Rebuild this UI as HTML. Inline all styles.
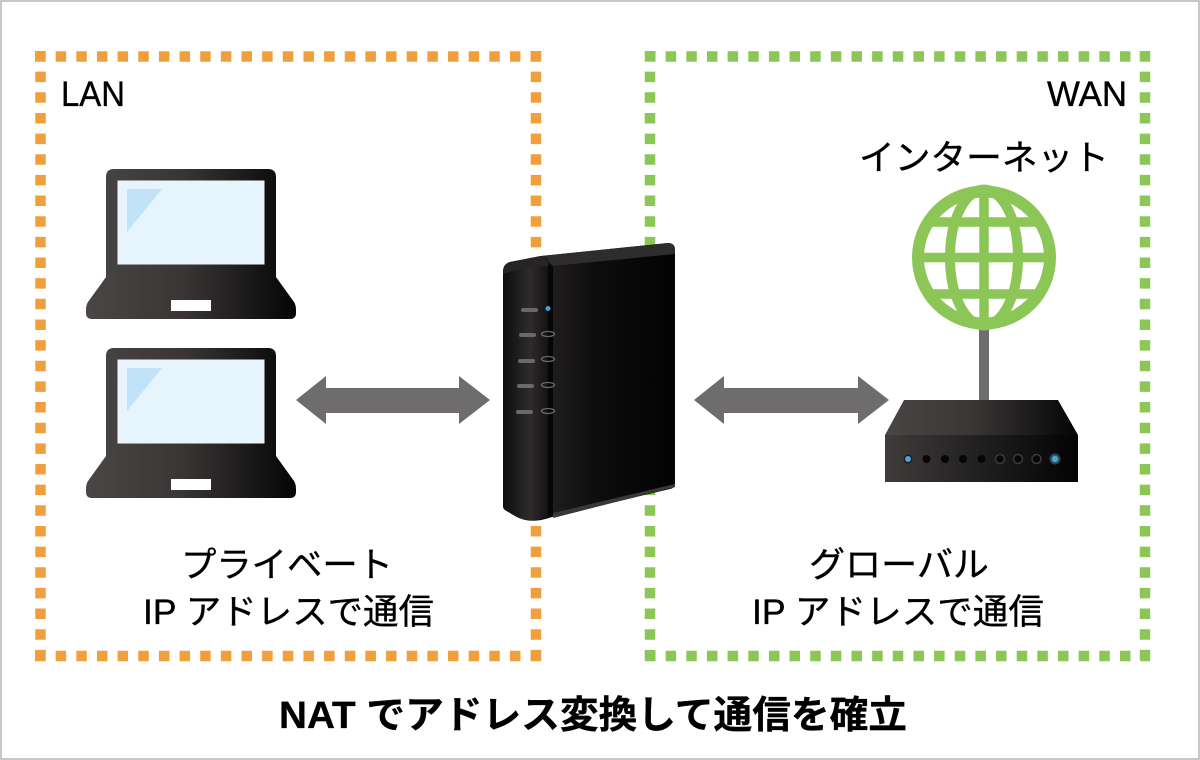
<!DOCTYPE html>
<html lang="ja"><head><meta charset="utf-8">
<style>html,body{margin:0;padding:0;background:#fff;width:1200px;height:760px;overflow:hidden}svg{display:block}
text{font-family:"Liberation Sans","Noto Sans CJK JP",sans-serif;fill:#000;stroke:#000;stroke-width:.35px;font-size:35px}</style></head>
<body>
<svg width="1200" height="760" viewBox="0 0 1200 760" xmlns="http://www.w3.org/2000/svg">
<defs>
<linearGradient id="dk" x1="0" x2="1" y1="0" y2="0"><stop offset="0" stop-color="#4a4646"/><stop offset=".45" stop-color="#3a3636"/><stop offset="1" stop-color="#050505"/></linearGradient>
<linearGradient id="fr" x1="0" x2="1" y1="0" y2="0"><stop offset="0" stop-color="#403c3c"/><stop offset=".4" stop-color="#262424"/><stop offset="1" stop-color="#030303"/></linearGradient>
<linearGradient id="rf" x1="0" x2="1" y1="0" y2="0"><stop offset="0" stop-color="#1e1c1c"/><stop offset=".35" stop-color="#0e0d0d"/><stop offset="1" stop-color="#020202"/></linearGradient>
<linearGradient id="rl" x1="0" x2="1" y1="0" y2="0"><stop offset="0" stop-color="#0c0c0c"/><stop offset=".6" stop-color="#2e2b2b"/><stop offset="1" stop-color="#141313"/></linearGradient>
<g id="laptop">
<path d="M114 169H268Q276 169 276 177V277L294 302Q296 305 296 310V313Q296 319 290 319H92Q86 319 86 313V310Q86 305 88 302L106 277V177Q106 169 114 169Z" fill="url(#dk)"/>
<rect x="118" y="181" width="146" height="83" fill="#e6f4fd" stroke="#f4f4f4" stroke-width="1"/>
<path d="M127 189H162L127 232Z" fill="#c0e3f8"/>
<rect x="171" y="300" width="40" height="11" fill="#fff"/>
</g>
</defs>
<rect x="1" y="1" width="1198" height="758" fill="#fff" stroke="#b5b5b5" stroke-width="1.5"/>
<g fill="none" stroke="#f19f3c" stroke-width="10.5" stroke-dasharray="10.5 10.15">
<path d="M35 56.500H541"/><path d="M35 656H541"/><path d="M40.500 51V661.500"/><path d="M536 51V661.500"/>
</g>
<g fill="none" stroke="#8cc657" stroke-width="10.5" stroke-dasharray="10.5 10.15">
<path d="M645 56.500H1150"/><path d="M645 656H1150"/><path d="M650 51V661.500"/><path d="M1145 51V661.500"/>
</g>

<use href="#laptop"/>
<use href="#laptop" y="179"/>

<path d="M296 400L326 376V388H459V376L490 400L459 424V413H326V424Z" fill="#6f6c6d"/>
<path d="M694 400L724 376V388H858V376L889 400L858 424V413H724V424Z" fill="#6f6c6d"/>

<!-- router -->
<path d="M510 262L541 256L668 243Q675 243 675 250V484Q675 488 670 489L552 517Q530 525 515 516L505 510Q503 509 503 505V272Q503 264 510 262Z" fill="#0a0a0a"/>
<path d="M553 266L675 254V484L553 513Z" fill="url(#rf)"/>
<path d="M541 256L668 243Q675 243 675 250V254L553 266L548 262Z" fill="#2e2c2c"/>
<path d="M553 513L675 484V487L553 518Z" fill="#3a3838"/>
<path d="M510 262L541 256Q548 256 548 262V517Q530 524 515 516L505 510Q503 509 503 505V272Q503 264 510 262Z" fill="url(#rl)"/>
<path d="M510 262L541 256Q548 256 548 266Q525 266 503 274Q503 264 510 262Z" fill="#262424"/>
<rect x="548" y="266" width="5" height="250" fill="#060606"/>
<g fill="#6b6868"><rect x="521" y="308" width="17" height="4" rx="2"/><rect x="519" y="333" width="17" height="4" rx="2"/><rect x="518" y="359" width="17" height="4" rx="2"/><rect x="517" y="384" width="17" height="4" rx="2"/><rect x="516" y="410" width="17" height="4" rx="2"/></g>
<g fill="none" stroke="#6b6868" stroke-width="1.3"><ellipse cx="548" cy="334" rx="6.500" ry="2.500"/><ellipse cx="548" cy="359" rx="6.500" ry="2.500"/><ellipse cx="548" cy="385" rx="6.500" ry="2.500"/><ellipse cx="548" cy="411" rx="6.500" ry="2.500"/></g>
<circle cx="548" cy="308.500" r="2.500" fill="#3aa3d8"/>

<!-- globe -->
<rect x="979" y="328" width="10" height="74" fill="#6f6c6d"/>
<g fill="none" stroke="#8cc657">
<circle cx="984" cy="257.500" r="66" stroke-width="12"/>
<ellipse cx="984" cy="257.500" rx="34" ry="68" stroke-width="10"/>
<path d="M984 190V325M918 257.500H1050M930 222H1038M930 294H1038" stroke-width="9.500"/>
</g>

<!-- modem -->
<path d="M904 400H1058L1078 435H885Z" fill="url(#dk)"/>
<path d="M885 435H1078V482H885Z" fill="url(#fr)"/>
<circle cx="908" cy="459" r="4.500" fill="#1d1d1d"/><circle cx="908" cy="459" r="3" fill="#4da6d2"/>
<g fill="#060606"><circle cx="926.500" cy="459" r="4"/><circle cx="945" cy="459" r="4"/><circle cx="963" cy="459" r="4"/><circle cx="981.500" cy="459" r="4"/></g>
<g fill="#080808" stroke="#3c3a3a" stroke-width="1.500"><circle cx="1000" cy="459" r="4.500"/><circle cx="1018" cy="459" r="4.500"/><circle cx="1036.500" cy="459" r="4.500"/></g>
<circle cx="1055" cy="459" r="5.500" fill="#2b4a58"/><circle cx="1055" cy="459" r="3.200" fill="#4da6d2"/>

<!-- labels -->
<text x="61" y="106" textLength="64" lengthAdjust="spacingAndGlyphs">LAN</text>
<text x="1047" y="106" textLength="80" lengthAdjust="spacingAndGlyphs">WAN</text>
<text x="859" y="170" textLength="250" lengthAdjust="spacingAndGlyphs">インターネット</text>
<text x="181" y="577" textLength="212" lengthAdjust="spacingAndGlyphs">プライベート</text>
<text x="143" y="624" textLength="291" lengthAdjust="spacingAndGlyphs">IP アドレスで通信</text>
<text x="809" y="577" textLength="180" lengthAdjust="spacingAndGlyphs">グローバル</text>
<text x="752" y="624" textLength="292" lengthAdjust="spacingAndGlyphs">IP アドレスで通信</text>
<text x="279" y="728" textLength="628" lengthAdjust="spacingAndGlyphs" font-weight="700" style="font-size:38px">NAT でアドレス変換して通信を確立</text>
</svg>
</body></html>
